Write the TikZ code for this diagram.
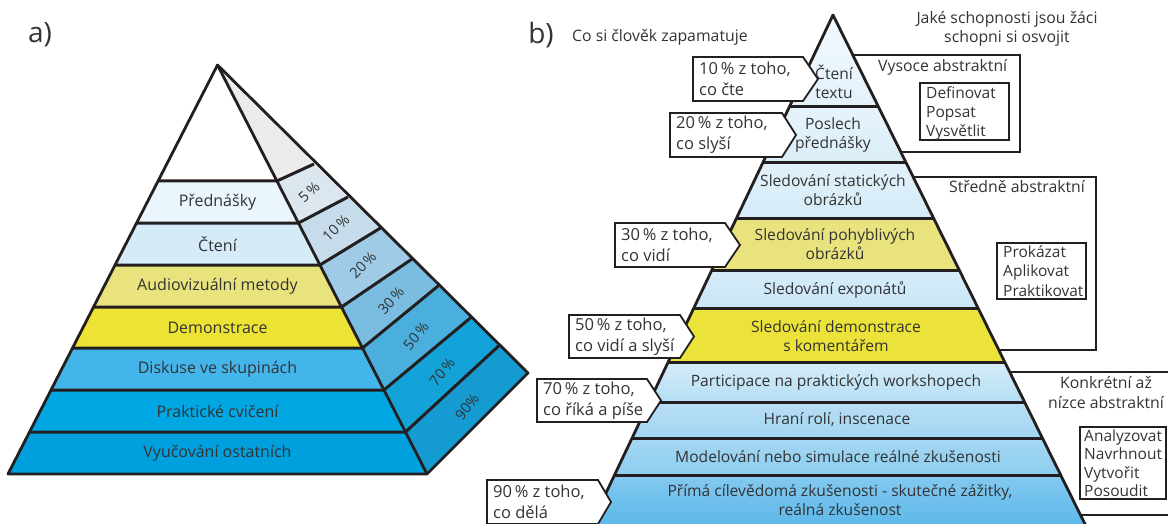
\documentclass[tikz,border=0pt]{standalone}
\usepackage{fontspec}
\setmainfont{Open Sans}
\definecolor{ink}{HTML}{231F20}
\definecolor{txt}{HTML}{333333}
% left pyramid front
\definecolor{fA}{HTML}{EAF5FC}
\definecolor{fB}{HTML}{D6EBF8}
\definecolor{fC}{HTML}{E9E37E}
\definecolor{fD}{HTML}{ECE335}
\definecolor{fE}{HTML}{44B5EA}
\definecolor{fF}{HTML}{00A7E3}
\definecolor{fG}{HTML}{009FDD}
% left pyramid side
\definecolor{s0}{HTML}{EBEBEB}
\definecolor{s1}{HTML}{DBE6EE}
\definecolor{s2}{HTML}{C7DCEA}
\definecolor{s3}{HTML}{9FCBE6}
\definecolor{s4}{HTML}{7BBDE1}
\definecolor{s5}{HTML}{4AAFDC}
\definecolor{s6}{HTML}{14A3D8}
\definecolor{s7}{HTML}{159BD2}
% right pyramid
\definecolor{yPale}{HTML}{E9E37D}
\definecolor{yFull}{HTML}{EBE23A}
\definecolor{r1t}{HTML}{F4FAFE}
\definecolor{r1b}{HTML}{E3F1FB}
\definecolor{r2t}{HTML}{E6F3FB}
\definecolor{r2b}{HTML}{DAEEF9}
\definecolor{r3t}{HTML}{E2F1FA}
\definecolor{r3b}{HTML}{D4EBF8}
\definecolor{r5t}{HTML}{D6ECF9}
\definecolor{r5b}{HTML}{CAE6F6}
\definecolor{r7t}{HTML}{D6EDF9}
\definecolor{r7b}{HTML}{B4DEF4}
\definecolor{r8t}{HTML}{B8DFF5}
\definecolor{r8b}{HTML}{A2D6F2}
\definecolor{r9t}{HTML}{A5D7F2}
\definecolor{r9b}{HTML}{8CCDF0}
\definecolor{r10t}{HTML}{84C9EF}
\definecolor{r10b}{HTML}{58B7EA}
\begin{document}
\begin{tikzpicture}[x=1pt,y=-1pt,
  edge/.style={draw=ink,line width=2.8pt,line join=round},
  sep/.style={draw=ink,line width=3pt},
  lab/.style={font=\fontsize{16}{20}\selectfont,text=txt,inner sep=0pt,align=center},
  rlab/.style={font=\fontsize{15.6}{19.5}\selectfont,text=txt,inner sep=0pt,align=center},
  pct/.style={font=\fontsize{14.5}{16}\selectfont,text=txt,inner sep=0pt},
  call/.style={draw=ink,fill=white,line width=1.8pt,line join=miter},
  calltxt/.style={font=\fontsize{16.5}{21}\selectfont,text=txt,inner sep=0pt,align=left,anchor=west},
  frame/.style={draw=ink,line width=2pt},
  ibox/.style={draw=ink,line width=1.6pt},
  boxtxt/.style={font=\fontsize{15.5}{19.3}\selectfont,text=txt,inner sep=0pt,align=left,anchor=north west},
  head/.style={font=\fontsize{15.8}{18.5}\selectfont,text=txt,inner sep=0pt,align=center},
  big/.style={font=\fontsize{28}{30}\selectfont,text=txt,inner sep=0pt}
]
\useasboundingbox (0,0) rectangle (1168,524);

% ================= a) =================
\node[big] (la) at (40,35) {a)};

% front face
\fill[white] (217.5,65) -- (158.1,181) -- (276.9,181) -- cycle;
\fill[fA] (158.1,181) -- (276.9,181) -- (298.4,223) -- (136.6,223) -- cycle;
\fill[fB] (136.6,223) -- (298.4,223) -- (319.9,265) -- (115.1,265) -- cycle;
\fill[fC] (115.1,265) -- (319.9,265) -- (341.5,307) -- (93.5,307) -- cycle;
\fill[fD] (93.5,307) -- (341.5,307) -- (362.5,348) -- (72.5,348) -- cycle;
\fill[fE] (72.5,348) -- (362.5,348) -- (384,390) -- (51,390) -- cycle;
\fill[fF] (51,390) -- (384,390) -- (405.5,432) -- (29.5,432) -- cycle;
\fill[fG] (29.5,432) -- (405.5,432) -- (427,474) -- (8,474) -- cycle;
% side face
\fill[s0] (217.5,65) -- (276.9,181) -- (314,164) -- cycle;
\fill[s1] (276.9,181) -- (298.4,223) -- (348,197) -- (314,164) -- cycle;
\fill[s2] (298.4,223) -- (319.9,265) -- (380.5,228) -- (348,197) -- cycle;
\fill[s3] (319.9,265) -- (341.5,307) -- (412,259) -- (380.5,228) -- cycle;
\fill[s4] (341.5,307) -- (362.5,348) -- (439.3,285) -- (412,259) -- cycle;
\fill[s5] (362.5,348) -- (384,390) -- (471.5,317) -- (439.3,285) -- cycle;
\fill[s6] (384,390) -- (405.5,432) -- (499.7,345) -- (471.5,317) -- cycle;
\fill[s7] (405.5,432) -- (427,474) -- (528,373) -- (499.7,345) -- cycle;
% separators
\draw[sep] (158.1,181) -- (276.9,181) -- (314,164);
\draw[sep] (136.6,223) -- (298.4,223) -- (348,197);
\draw[sep] (115.1,265) -- (319.9,265) -- (380.5,228);
\draw[sep] (93.5,307) -- (341.5,307) -- (412,259);
\draw[sep] (72.5,348) -- (362.5,348) -- (439.3,285);
\draw[sep] (51,390) -- (384,390) -- (471.5,317);
\draw[sep] (29.5,432) -- (405.5,432) -- (499.7,345);
\draw[edge] (217.5,65) -- (8,474) -- (427,474) -- (528,373) -- cycle;
\draw[edge] (217.5,65) -- (427,474);
% labels
\node[lab] (a1) at (217.5,202) {Přednášky};
\node[lab] (a2) at (217.5,244) {Čtení};
\node[lab] (a3) at (217.5,286) {Audiovizuální metody};
\node[lab] (a4) at (217.5,327.5) {Demonstrace};
\node[lab] (a5) at (217.5,369) {Diskuse ve skupinách};
\node[lab] (a6) at (217.5,411) {Praktické cvičení};
\node[lab] (a7) at (217.5,453) {Vyučování ostatních};
\node[pct,rotate=42] (p1) at (309,192) {5\,\%};
\node[pct,rotate=44] (p2) at (336,228) {10\,\%};
\node[pct,rotate=46] (p3) at (363,265) {20\,\%};
\node[pct,rotate=48] (p4) at (391,301) {30\,\%};
\node[pct,rotate=50] (p5) at (416,336) {50\,\%};
\node[pct,rotate=51] (p6) at (442,372) {70\,\%};
\node[pct,rotate=52] (p7) at (467,407) {90\%};

% ================= b) =================
\node[big] (lb) at (541,35) {b)};
\node[head,anchor=west] (hl) at (572,37) {Co si člověk zapamatuje};
\node[head] (hr) at (1007,29) {Jaké schopnosti jsou žáci\\schopni si osvojit};

% frames on the right (behind pyramid)
\draw[frame] (852.8,55) -- (1020,55) -- (1020,152) -- (900.8,152);
\draw[frame] (913.2,177) -- (1096,177) -- (1096,350) -- (998.8,350);
\draw[frame] (1009.7,372) -- (1172,372);
\draw[frame] (1080.5,515) -- (1172,515);
\node[head,anchor=west] (fa) at (878,67) {Vysoce abstraktní};
\draw[ibox] (920,83) rectangle (1009,140);
\node[boxtxt] (fat) at (926,86) {Definovat\\Popsat\\Vysvětlit};
\node[head,anchor=west] (fb) at (949,187) {Středně abstraktní};
\draw[ibox] (997,243) rectangle (1086,299);
\node[boxtxt] (fbt) at (1003,245.5) {Prokázat\\Aplikovat\\Praktikovat};
\node[head,font=\fontsize{15.8}{20}\selectfont] (fc) at (1106,393) {Konkrétní až\\nízce abstraktní};
\draw[ibox] (1080,427) rectangle (1166,499);
\node[boxtxt,font=\fontsize{15.5}{18.3}\selectfont] (fct) at (1084,429.5) {Analyzovat\\Navrhnout\\Vytvořit\\Posoudit};

% pyramid layers
\shade[top color=r1t,bottom color=r1b] (833,15) -- (878.5,107) -- (789.3,107) -- cycle;
\shade[top color=r2t,bottom color=r2b] (789.3,107) -- (878.5,107) -- (906.3,163) -- (762.7,163) -- cycle;
\shade[top color=r3t,bottom color=r3b] (762.7,163) -- (906.3,163) -- (933.5,218) -- (736.6,218) -- cycle;
\fill[yPale] (736.6,218) -- (933.5,218) -- (959.2,270) -- (711.9,270) -- cycle;
\shade[top color=r5t,bottom color=r5b] (711.9,270) -- (959.2,270) -- (978,308) -- (693.8,308) -- cycle;
\fill[yFull] (693.8,308) -- (978,308) -- (1004.8,362) -- (668.2,362) -- cycle;
\shade[top color=r7t,bottom color=r7b] (668.2,362) -- (1004.8,362) -- (1024.6,402) -- (649.2,402) -- cycle;
\shade[top color=r8t,bottom color=r8b] (649.2,402) -- (1024.6,402) -- (1042.4,438) -- (632.1,438) -- cycle;
\shade[top color=r9t,bottom color=r9b] (632.1,438) -- (1042.4,438) -- (1060.7,475) -- (614.5,475) -- cycle;
\shade[top color=r10t,bottom color=r10b] (614.5,475) -- (1060.7,475) -- (1087.9,530) -- (588.4,530) -- cycle;
% separators
\draw[sep] (789.3,107) -- (878.5,107);
\draw[sep] (762.7,163) -- (906.3,163);
\draw[sep] (736.6,218) -- (933.5,218);
\draw[sep] (711.9,270) -- (959.2,270);
\draw[sep] (693.8,308) -- (978,308);
\draw[sep] (668.2,362) -- (1004.8,362);
\draw[sep] (649.2,402) -- (1024.6,402);
\draw[sep] (632.1,438) -- (1042.4,438);
\draw[sep] (614.5,475) -- (1060.7,475);
\draw[edge] (588.4,530) -- (833,15) -- (1087.9,530);
% labels
\node[rlab] (b1) at (834,82) {Čtení\\textu};
\node[rlab] (b2) at (833,135) {Poslech\\přednášky};
\node[rlab] (b3) at (833,190) {Sledování statických\\obrázků};
\node[rlab] (b4) at (835,244) {Sledování pohyblivých\\obrázků};
\node[rlab] (b5) at (835,290) {Sledování exponátů};
\node[rlab] (b6) at (836,336) {Sledování demonstrace\\s komentářem};
\node[rlab] (b7) at (836,382) {Participace na praktických workshopech};
\node[rlab] (b8) at (837,420) {Hraní rolí, inscenace};
\node[rlab] (b9) at (838,457) {Modelování nebo simulace reálné zkušenosti};
\node[rlab] (b10) at (840,500) {Přímá cílevědomá zkušenosti - skutečné zážitky,\\reálná zkušenost};

% callouts
\draw[call] (693,57) -- (803,57) -- (818,79) -- (803,101) -- (693,101) -- cycle;
\node[calltxt] (c1) at (699,79) {10\,\% z toho,\\co čte};
\draw[call] (670,113) -- (782,113) -- (796,135) -- (782,157) -- (670,157) -- cycle;
\node[calltxt] (c2) at (676,135) {20\,\% z toho,\\co slyší};
\draw[call] (615,223) -- (725,223) -- (740,245) -- (725,267) -- (615,267) -- cycle;
\node[calltxt] (c3) at (621,245) {30\,\% z toho,\\co vidí};
\draw[call] (569,315) -- (680,315) -- (694,336.5) -- (680,358) -- (569,358) -- cycle;
\node[calltxt] (c4) at (575,336.5) {50\,\% z toho,\\co vidí a slyší};
\draw[call] (537,379) -- (647,379) -- (661,400.5) -- (647,422) -- (537,422) -- cycle;
\node[calltxt] (c5) at (543,400.5) {70\,\% z toho,\\co říká a píše};
\draw[call] (487,480) -- (598,480) -- (611,502) -- (598,524) -- (487,524) -- cycle;
\node[calltxt] (c6) at (493,502) {90\,\% z toho,\\co dělá};
\end{tikzpicture}
\end{document}
